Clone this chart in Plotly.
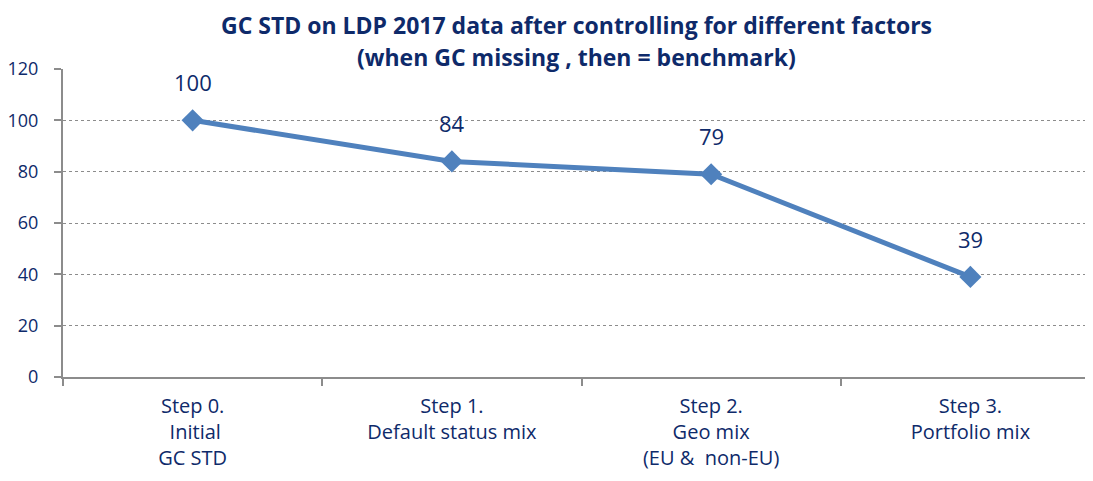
import plotly.graph_objects as go

steps = ["Step 0.<br> Initial<br>GC STD", "Step 1.<br>Default status mix",
         "Step 2.<br>Geo mix<br>(EU &  non-EU)", "Step 3.<br>Portfolio mix"]
gc_std = [100, 84, 79, 39]
y_ticks = [0, 20, 40, 60, 80, 100, 120]
title_lines = ["GC STD on LDP 2017 data after controlling for different factors",
               "(when GC missing , then = benchmark)"]

navy = "#0E2A6A"
blue = "#4F81BD"
grey = "#8C8C8C"
font = "Open Sans"

fig = go.Figure()

fig.add_trace(go.Scatter(x=steps, y=gc_std, mode="lines+markers",
    line={"color": blue, "width": 5},
    marker={"symbol": "diamond", "size": 17, "color": blue},
    showlegend=False, hoverinfo="skip"))

# value labels above points
for s, v in zip(steps, gc_std):
    fig.add_annotation(x=s, y=v, text=str(v), showarrow=False, yshift=38,
                       font={"size": 22, "color": navy, "family": font})

# two-line title, centred on the visible part of the chart
for line, ypos in zip(title_lines, [1.143, 1.039]):
    fig.add_annotation(xref="paper", yref="paper", x=0.495, y=ypos,
        xanchor="center", yanchor="middle", showarrow=False,
        text=f"<b>{line}</b>", font={"size": 23, "color": navy, "family": font})

# page body has an 8px margin; the original chart runs past the right edge
fig.update_layout(
    width=1100, height=473,
    margin={"l": 55, "r": 8, "t": 61, "b": 104, "autoexpand": False},
    paper_bgcolor="white", plot_bgcolor="white",
    font={"family": font, "color": navy},
)

fig.update_xaxes(type="category", tickson="boundaries", showgrid=False,
    range=[-0.5, 3.5], automargin=False,
    showline=True, linecolor=grey, linewidth=2,
    ticks="outside", ticklen=7, tickcolor=grey, tickwidth=1.5,
    ticklabelstandoff=10,
    tickfont={"size": 20, "color": navy, "family": font})

fig.update_yaxes(range=[0, 120], tickvals=y_ticks, showgrid=True,
    automargin=False,
    gridcolor=grey, griddash="dot", gridwidth=1,
    showline=True, linecolor=grey, linewidth=2,
    ticks="outside", ticklen=7, tickcolor=grey, tickwidth=1.5,
    ticklabelstandoff=12,
    tickfont={"size": 18, "color": navy, "family": font}, zeroline=False)

fig.write_html("out.html")
